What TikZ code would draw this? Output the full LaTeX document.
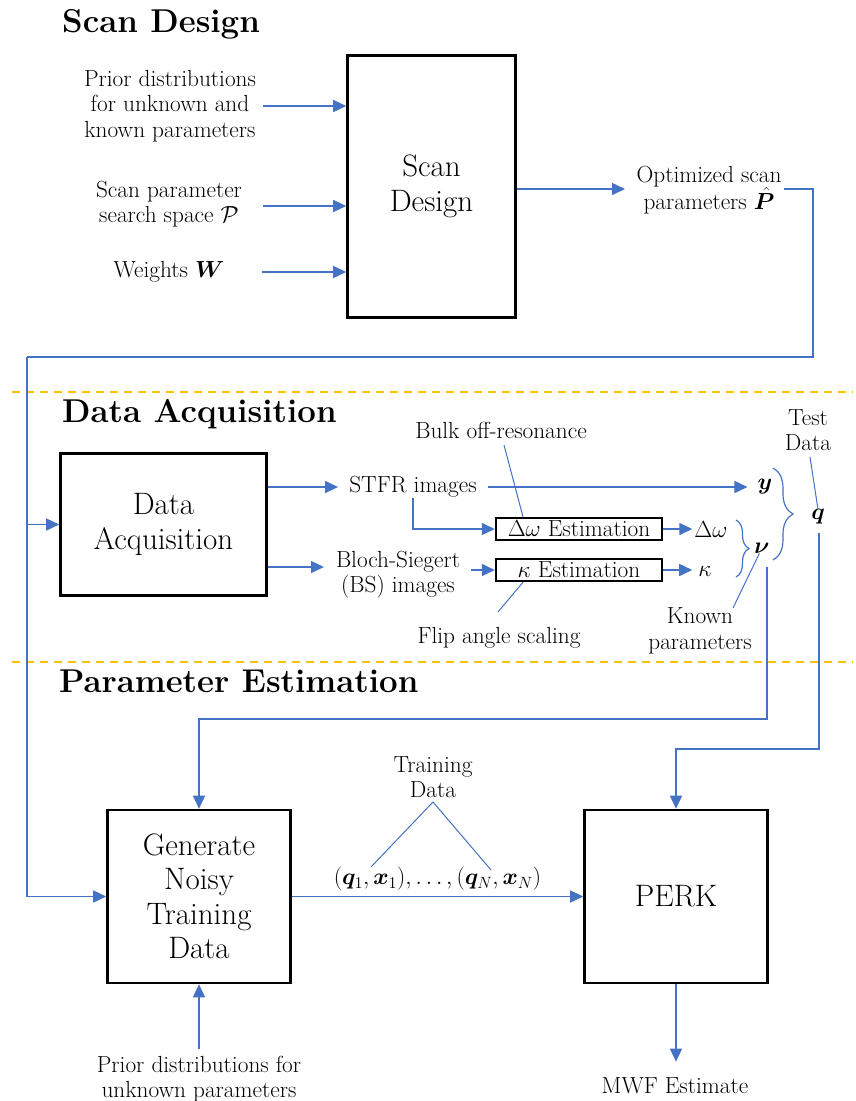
\RequirePackage{fix-cm}
\documentclass[tikz,border=0pt]{standalone}
\usepackage{amsmath}
\usepackage{bm}
\usetikzlibrary{arrows.meta,decorations.pathreplacing}
\definecolor{lblue}{HTML}{4472C4}
\definecolor{gold}{HTML}{FFC000}
\newcommand\labf{\fontsize{23.3}{25.5}\selectfont}
\newcommand\boxf{\fontsize{31}{34.5}\selectfont}
\newcommand\ttlf{\fontsize{33}{38}\selectfont\bfseries}
\begin{document}
\begin{tikzpicture}[x=1pt,y=-1pt,
  box/.style={draw=black, line width=2.6pt, inner sep=0pt, align=center, font=\boxf},
  smallbox/.style={draw=black, line width=2.4pt, inner sep=0pt, font=\labf, minimum width=166pt, minimum height=22pt},
  lab/.style={inner sep=0pt, align=center, font=\labf},
  ttl/.style={inner sep=0pt, anchor=base west, font=\ttlf},
  arr/.style={draw=lblue, line width=1.5pt, -{Triangle[length=13pt,width=12pt]}},
  ln/.style={draw=lblue, line width=1.5pt},
  lead/.style={draw=lblue, line width=1pt},
  sepline/.style={draw=gold, line width=2pt, dash pattern=on 8pt off 6pt},
  brc/.style={draw=lblue, line width=1.2pt, decorate, decoration={brace, amplitude=#1}}]
\useasboundingbox (0,0) rectangle (856,1101);

% separators
\coordinate (d1a) at (12,392); \coordinate (d1b) at (853,392);
\coordinate (d2a) at (12,662); \coordinate (d2b) at (853,662);
\draw[sepline] (d1a) -- (d1b);
\draw[sepline] (d2a) -- (d2b);

% titles
\node[ttl] (t1) at (62,32) {Scan Design};
\node[ttl] (t2) at (62,422) {Data Acquisition};
\node[ttl] (t3) at (59,692) {Parameter Estimation};

% ---------- Scan design ----------
\node[box, minimum width=168pt, minimum height=262pt] (sd) at (431.5,186.5) {Scan\\Design};
\node[lab] (pr1) at (170,106) {Prior distributions\\for unknown and\\known parameters};
\node[lab] (sp) at (169,204) {Scan parameter\\search space $\mathcal{P}$};
\node[lab] (wt) at (169,272) {Weights $\bm{W}$};
\coordinate (i1) at (263,106);
\coordinate (i2) at (263,206);
\coordinate (i3) at (262,272);
\draw[arr] (i1) -- (i1 -| sd.west);
\draw[arr] (i2) -- (i2 -| sd.west);
\draw[arr] (i3) -- (i3 -| sd.west);
\node[lab] (opt) at (709,190) {Optimized scan\\parameters $\hat{\bm{P}}$};
\coordinate (o1) at (625,189);
\draw[arr] (o1 -| sd.east) -- (o1);

% ---------- loop ----------
\coordinate (o2) at (784,189);
\coordinate (lp) at (813,357);
\coordinate (lx) at (27,357);

% ---------- Data acquisition ----------
\node[box, minimum width=206pt, minimum height=142pt] (da) at (163.5,524.5) {Data\\Acquisition};
\node[lab, inner xsep=11pt] (stfr) at (413,487) {STFR images};
\node[lab, inner xsep=10pt] (yv) at (765,487) {$\bm{y}$};
\node[smallbox] (dw) at (579,529) {$\Delta\omega$ Estimation};
\node[smallbox] (kb) at (579,570) {$\kappa$ Estimation};
\node[lab, inner xsep=2pt] (dwl) at (711,530) {$\Delta\omega$};
\node[lab, inner xsep=6pt] (kl) at (705,571) {$\kappa$};
\node[lab, inner xsep=11pt] (bs) at (398,575) {Bloch-Siegert\\(BS) images};
\coordinate (bsa) at (324,567);
\node[lab] (nu) at (762,548) {$\bm{\nu}$};
\node[lab] (q) at (818,517) {$\bm{q}$};
\node[lab] (test) at (808,430) {Test\\Data};
\node[lab] (known) at (700,631) {Known\\parameters};
\node[lab] (bulk) at (501,430) {Bulk off-resonance};
\node[lab] (flip) at (499,638) {Flip angle scaling};

\draw[ln] (o2) -| (lp) -- (lx);
\draw[arr] (lx |- da.west) -- (da.west);
\draw[arr] (da.east |- stfr.west) -- (stfr.west);
\draw[arr] (stfr.east) -- (yv.west);
\draw[arr] (stfr.south) |- (dw.west);
\draw[arr] (dw.east) -- (dw.east -| dwl.west);
\draw[arr] (da.east |- bsa) -- (bsa);
\draw[arr] (bs.east |- kb.west) -- (kb.west);
\draw[arr] (kb.east) -- (kb.east -| kl.west);

\coordinate (b1a) at (736,520); \coordinate (b1b) at (736,577);
\coordinate (b2a) at (773,468); \coordinate (b2b) at (773,560);
\draw[brc=13pt] (b1a) -- (b1b);
\draw[brc=20pt] (b2a) -- (b2b);

\coordinate (bk1) at (504,445);
\draw[lead] (bk1) -- ([xshift=-56pt]dw.north);
\coordinate (fl1) at (498,612);
\draw[lead] (fl1) -- ([xshift=-56pt]kb.south);
\coordinate (ts1) at (810,457);
\draw[lead] (ts1) -- (q.north);
\coordinate (kn1) at (733,608);
\draw[lead] (kn1) -- (nu);

% ---------- Parameter estimation ----------
\node[box, minimum width=183pt, minimum height=173pt] (gen) at (199,896.5) {Generate\\Noisy\\Training\\Data};
\node[box, minimum width=183pt, minimum height=173pt] (perk) at (676,896.5) {PERK};
\draw[arr] (lx) |- (gen.west);
\draw[arr] (gen.east) -- (perk.west);

\coordinate (nuo) at (767,567); \coordinate (nut) at (767,719);
\draw[arr] (nuo) -- (nut) -| (gen.north);
\coordinate (qo) at (819,533); \coordinate (qt) at (819,749);
\draw[arr] (qo) -- (qt) -| (perk.north);

\node[lab] (tdata) at (437.5,879) {$(\bm{q}_1,\bm{x}_1),\ldots,(\bm{q}_N,\bm{x}_N)$};
\node[lab] (tlab) at (433,777) {Training\\Data};
\coordinate (tl1) at (371,867); \coordinate (tl2) at (491,870);
\draw[lead] (tl1) -- ([yshift=-4pt]tlab.south) -- (tl2);

\node[lab] (mwf) at (675,1086) {MWF Estimate};
\draw[arr, shorten >=16pt] (perk.south) -- (perk.south |- mwf.north);

\node[lab] (pb) at (199,1079) {Prior distributions for\\unknown parameters};
\coordinate (pba) at (199,1049);
\draw[arr] (pba) -- (gen.south);
\end{tikzpicture}
\end{document}
